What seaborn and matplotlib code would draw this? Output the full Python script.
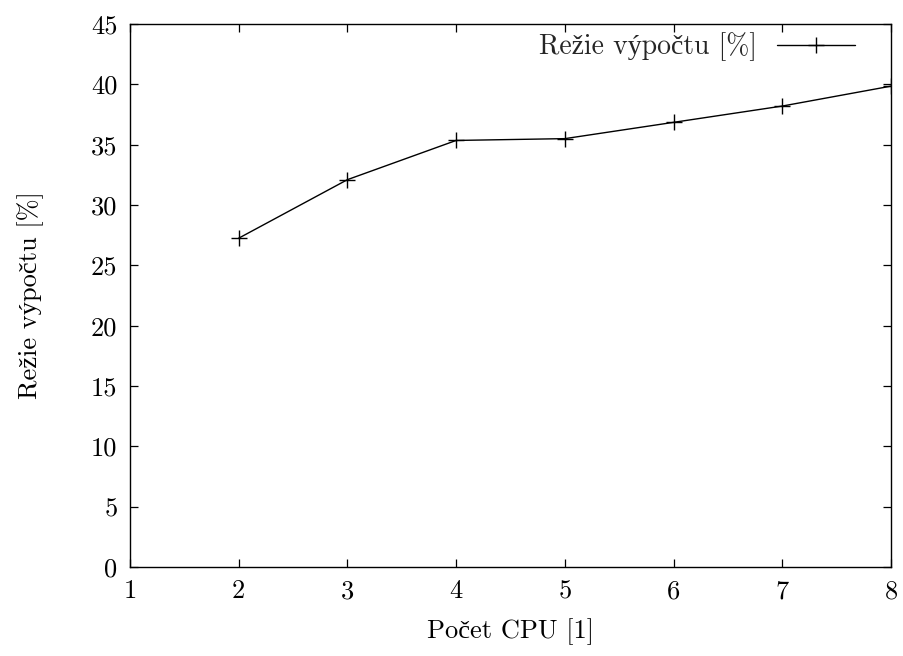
import matplotlib
matplotlib.use("Agg")
import matplotlib.pyplot as plt
import seaborn as sns
import pandas as pd

cpus = [2, 3, 4, 5, 6, 7, 8]
overhead = [27.25, 32.1, 35.35, 35.5, 36.85, 38.2, 39.85]
series_label = "Režie výpočtu [%]"
x_label = "Počet CPU [1]"
y_label = "Režie výpočtu [%]"
x_ticks = [1, 2, 3, 4, 5, 6, 7, 8]
y_ticks = [0, 5, 10, 15, 20, 25, 30, 35, 40, 45]

sns.set_theme(style="ticks")
plt.rcParams["font.family"] = ["cmr10", "Liberation Serif", "DejaVu Serif"]
plt.rcParams["axes.formatter.use_mathtext"] = True
plt.rcParams["mathtext.fontset"] = "cm"

df = pd.DataFrame({"cpu": cpus, "val": overhead})

fig = plt.figure(figsize=(9.04, 6.56), dpi=100)
ax = fig.add_axes([130 / 904, 1 - 567 / 656, (891 - 130) / 904, (567 - 24) / 656])

sns.lineplot(data=df, x="cpu", y="val", ax=ax, color="black", linewidth=1.0,
             marker="+", markersize=12, markeredgewidth=1.0, markeredgecolor="black",
             label=series_label)

ax.set_xlim(1, 8)
ax.set_ylim(0, 45)
ax.set_xticks(x_ticks)
ax.set_yticks(y_ticks)
ax.set_xticklabels([str(t) for t in x_ticks])
ax.set_yticklabels([str(t) for t in y_ticks])
ax.tick_params(direction="in", length=6, width=0.9, top=True, right=True,
               labelsize=19, colors="black", pad=9)
for s in ax.spines.values():
    s.set_visible(True)
    s.set_color("black")
    s.set_linewidth(1.0)
ax.set_xlabel(x_label, fontsize=19, color="black", labelpad=11)
ax.set_ylabel(y_label, fontsize=19, color="black", labelpad=34)

leg = ax.legend(loc="center right", bbox_to_anchor=((855 - 130) / 761, (567 - 47) / 543),
                frameon=False, markerfirst=False, fontsize=20,
                handlelength=2.8, borderaxespad=0, borderpad=0, handletextpad=0.72)

fig.savefig("out.png", dpi=100)
